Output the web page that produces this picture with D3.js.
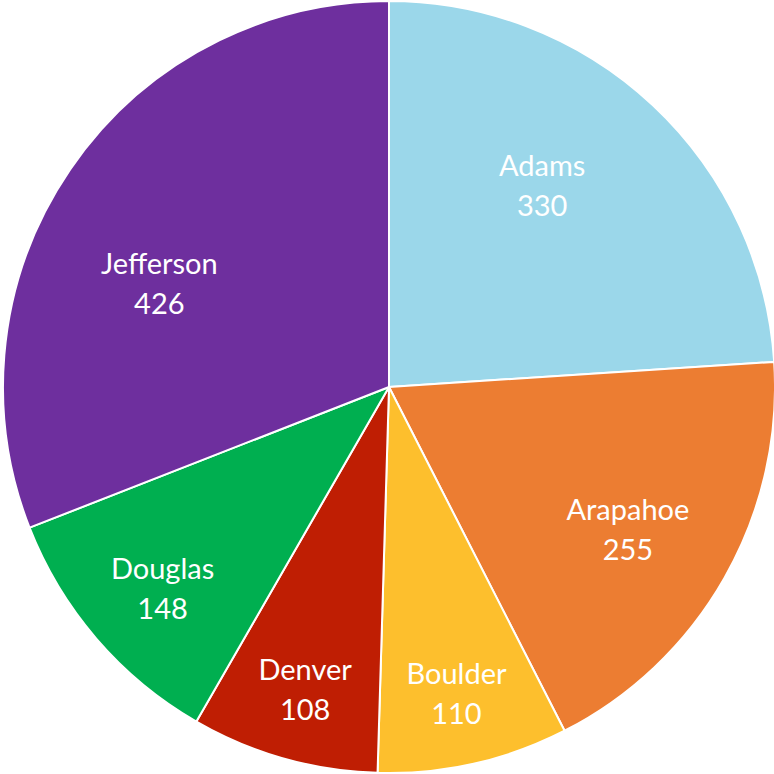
<!DOCTYPE html>
<html>
<head>
<meta charset="utf-8">
<script src="https://cdn.jsdelivr.net/npm/d3@7"></script>
<style>
  html, body { margin: 0; padding: 0; background: #ffffff; }
  svg { display: block; }
</style>
</head>
<body>
<svg id="chart" width="774" height="774"></svg>
<script>
const categories = ["Adams", "Arapahoe", "Boulder", "Denver", "Douglas", "Jefferson"];
const values = [330, 255, 110, 108, 148, 426];
const colors = ["#9BD7EA", "#EC7D32", "#FDBF2D", "#BF1E03", "#00AF50", "#6E2F9E"];

const width = 774, height = 774;
const cx = 389, cy = 387, R = 386;

const svg = d3.select("#chart");
const g = svg.append("g").attr("transform", `translate(${cx},${cy})`);

const data = categories.map((c, i) => ({ name: c, value: values[i], color: colors[i] }));
const pie = d3.pie().value(d => d.value).sort(null);
const arcs = pie(data);
const total = d3.sum(values);

const arc = d3.arc().innerRadius(0).outerRadius(R);

g.selectAll("path.slice")
  .data(arcs)
  .enter().append("path")
  .attr("class", "slice")
  .attr("d", arc)
  .attr("fill", d => d.data.color)
  .attr("stroke", "#ffffff")
  .attr("stroke-width", 2)
  .attr("stroke-linejoin", "round");

// label placement rule: larger slices put labels nearer to the centre,
// and very wide slices pull their label back toward the slice start
const frac = d => d.data.value / total;
const labelRadius = d => R * Math.max(0.66, Math.min(0.8, 0.86 - 0.8 * frac(d)));
const labelAngle = d => {
  const mid = (d.startAngle + d.endAngle) / 2;
  const f = frac(d);
  return f > 0.2 ? mid - (28 * f) * Math.PI / 180 : mid;
};

const labels = g.selectAll("text.lbl")
  .data(arcs)
  .enter().append("text")
  .attr("class", "lbl")
  .attr("transform", d => {
    const a = labelAngle(d);
    const r = labelRadius(d);
    return `translate(${Math.sin(a) * r},${-Math.cos(a) * r})`;
  })
  .attr("text-anchor", "middle")
  .attr("fill", "#ffffff")
  .style("font-family", "Lato, 'Open Sans', sans-serif")
  .style("font-size", "29px");

labels.append("tspan")
  .attr("x", 0)
  .attr("y", -3)
  .text(d => d.data.name);
labels.append("tspan")
  .attr("x", 0)
  .attr("y", 37)
  .text(d => d.data.value);
</script>
</body>
</html>
